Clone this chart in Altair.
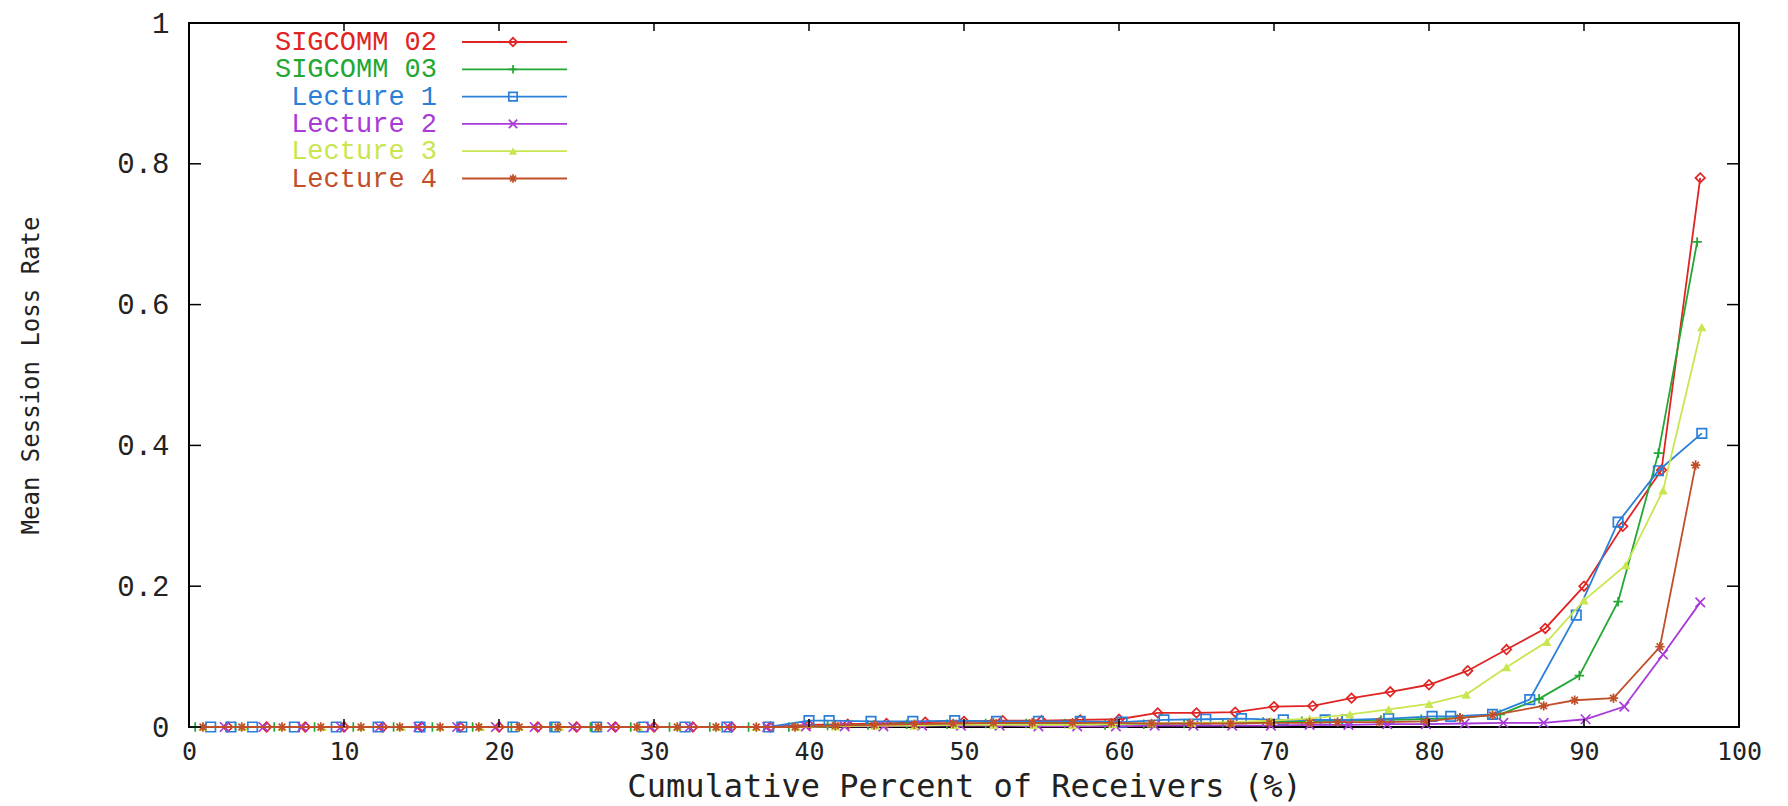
import altair as alt
import pandas as pd

# ---------------- data ----------------
series_names = ["SIGCOMM 02", "SIGCOMM 03", "Lecture 1", "Lecture 2", "Lecture 3", "Lecture 4"]

s02_x = [2.5, 5, 7.5, 10, 12.5, 15, 17.5, 20, 22.5, 25, 27.5, 30, 32.5, 35, 37.5,
         40, 42.5, 45, 47.5, 50, 52.5, 55, 57.5, 60, 62.5, 65, 67.5, 70, 72.5, 75,
         77.5, 80, 82.5, 85, 87.5, 90, 92.5, 95, 97.5]
s02_y = [0, 0, 0, 0, 0, 0, 0, 0, 0, 0, 0, 0, 0, 0, 0,
         0.003, 0.004, 0.005, 0.007, 0.008, 0.009, 0.009, 0.010, 0.011, 0.020, 0.020,
         0.021, 0.029, 0.030, 0.041, 0.050, 0.060, 0.080, 0.110, 0.140, 0.200, 0.285,
         0.365, 0.780]

s03_x = [0.4, 3.0, 5.5, 8.1, 10.6, 13.2, 15.7, 18.3, 20.8, 23.4, 25.9, 28.5, 31.0,
         33.6, 36.1, 38.7, 41.2, 43.8, 46.3, 48.9, 51.4, 54.0, 56.5, 59.1, 61.6, 64.2,
         66.7, 69.3, 71.8, 74.4, 76.9, 79.5, 82.0, 84.6, 87.1, 89.7, 92.2, 94.8, 97.3]
s03_y = [0, 0, 0, 0, 0, 0, 0, 0, 0, 0, 0, 0, 0, 0, 0, 0,
         0.002, 0.003, 0.004, 0.004, 0.005, 0.005, 0.005, 0.003, 0.004, 0.005, 0.006,
         0.007, 0.008, 0.009, 0.010, 0.011, 0.013, 0.018, 0.040, 0.073, 0.178, 0.389,
         0.689]

l1_x = [1.4, 2.7, 4.1, 6.8, 9.5, 12.2, 14.9, 17.6, 20.9, 23.6, 26.3, 29.3, 32.0,
        34.7, 37.4, 40.0, 41.3, 44.0, 46.7, 49.4, 52.1, 54.8, 57.5, 60.2, 62.9, 65.6,
        67.9, 70.6, 73.3, 74.7, 77.4, 80.2, 81.4, 84.1, 86.5, 89.5, 92.2, 94.8, 97.6]
l1_y = [0, 0, 0, 0, 0, 0, 0, 0, 0, 0, 0, 0, 0, 0, 0,
        0.009, 0.009, 0.008, 0.008, 0.009, 0.008, 0.008, 0.008, 0.007, 0.010, 0.011,
        0.012, 0.010, 0.010, 0.010, 0.012, 0.015, 0.015, 0.018, 0.039, 0.159, 0.291,
        0.364, 0.417]

l2_x = [2.3, 4.8, 7.3, 9.8, 12.3, 14.8, 17.3, 19.8, 22.3, 24.8, 27.3, 29.8, 32.3,
        34.8, 37.3, 39.8, 42.3, 44.8, 47.3, 49.8, 52.3, 54.8, 57.3, 59.8, 62.3, 64.8,
        67.3, 69.8, 72.3, 74.8, 77.3, 79.8, 82.3, 84.8, 87.4, 90.1, 92.6, 95.1, 97.5]
l2_y = [0, 0, 0, 0, 0, 0, 0, 0, 0, 0, 0, 0, 0, 0, 0,
        0.001, 0.001, 0.001, 0.002, 0.002, 0.002, 0.001, 0.001, 0.001, 0.002, 0.002,
        0.002, 0.002, 0.003, 0.003, 0.004, 0.004, 0.005, 0.006, 0.006, 0.011, 0.029,
        0.103, 0.177]

l3_x = [0.9, 3.5, 6.0, 8.6, 11.1, 13.7, 16.2, 18.8, 21.3, 23.9, 26.4, 29.0, 31.5,
        34.1, 36.6, 39.2, 41.7, 44.3, 46.8, 49.4, 51.9, 54.5, 57.0, 59.6, 62.1, 64.7,
        67.2, 69.8, 72.3, 74.9, 77.4, 80.0, 82.4, 85.0, 87.6, 90.0, 92.7, 95.1, 97.6]
l3_y = [0, 0, 0, 0, 0, 0, 0, 0, 0, 0, 0, 0, 0, 0, 0, 0,
        0.001, 0.002, 0.002, 0.003, 0.003, 0.003, 0.003, 0.004, 0.005, 0.006, 0.007,
        0.009, 0.012, 0.018, 0.025, 0.033, 0.046, 0.085, 0.121, 0.180, 0.230, 0.336,
        0.568]

l4_x = [0.9, 3.4, 6.0, 8.5, 11.1, 13.6, 16.2, 18.7, 21.3, 23.8, 26.4, 28.9, 31.5,
        34.0, 36.6, 39.1, 41.7, 44.2, 46.8, 49.3, 51.9, 54.4, 57.0, 59.5, 62.1, 64.6,
        67.2, 69.7, 72.3, 74.1, 76.8, 79.8, 82.0, 84.1, 87.4, 89.4, 91.9, 94.9, 97.2]
l4_y = [0, 0, 0, 0, 0, 0, 0, 0, 0, 0, 0, 0, 0, 0, 0, 0,
        0.002, 0.003, 0.004, 0.005, 0.006, 0.006, 0.006, 0.006, 0.005, 0.005, 0.005,
        0.006, 0.006, 0.007, 0.007, 0.008, 0.013, 0.017, 0.030, 0.038, 0.041, 0.114,
        0.372]

x_ticks = [0, 10, 20, 30, 40, 50, 60, 70, 80, 90, 100]
y_ticks = [0, 0.2, 0.4, 0.6, 0.8, 1]

# ---------------- styling ----------------
W, H = 1550, 704
colors = ["#e02424", "#22a832", "#2a80d8", "#a83ad8", "#c8e650", "#c0502a"]
shapes = [
    "diamond",
    "M-1,0L1,0M0,-1L0,1",
    "square",
    "M-1,-1L1,1M-1,1L1,-1",
    "triangle-up",
    "M-1,0L1,0M0,-1L0,1M-0.7,-0.7L0.7,0.7M-0.7,0.7L0.7,-0.7",
]
filled = [False, False, False, False, True, False]
xs_all = [s02_x, s03_x, l1_x, l2_x, l3_x, l4_x]
ys_all = [s02_y, s03_y, l1_y, l2_y, l3_y, l4_y]

X = alt.X(
    "x:Q",
    scale=alt.Scale(domain=[0, 100], nice=False, zero=False),
    axis=alt.Axis(
        values=x_ticks, title="Cumulative Percent of Receivers (%)",
        labelFont="DejaVu Sans Mono", labelFontSize=25, labelPadding=12,
        labelColor="#222", labelFlush=False,
        titleFont="DejaVu Sans Mono", titleFontSize=32, titleFontWeight="normal",
        titleColor="#222", titleY=44, titleBaseline="top",
    ),
)
Y = alt.Y(
    "y:Q",
    scale=alt.Scale(domain=[0, 1], nice=False),
    axis=alt.Axis(
        values=y_ticks, format="~g", title="Mean Session Loss Rate",
        labelFont="Liberation Mono", labelFontSize=29, labelPadding=20,
        labelColor="#222", labelFlush=False, labelBaseline="middle",
        titleFont="DejaVu Sans Mono", titleFontSize=24, titleFontWeight="normal",
        titleColor="#222", titleX=-146, titleY=H / 2, titleAngle=270,
    ),
)

layers = []
for i, name in enumerate(series_names):
    df = pd.DataFrame({"x": xs_all[i], "y": ys_all[i], "series": name})
    base = alt.Chart(df)
    layers.append(base.mark_line(color=colors[i], strokeWidth=1.8).encode(x=X, y=Y))
    layers.append(
        base.mark_point(shape=shapes[i], color=colors[i], filled=filled[i], size=90,
                        strokeWidth=1.7, opacity=1).encode(x=X, y=Y)
    )

# inward (mirrored) ticks, gnuplot style -- same fields/encodings as the data axes
xt = pd.DataFrame({"x": x_ticks})
yt = pd.DataFrame({"y": y_ticks})
layers.append(alt.Chart(xt).mark_rule(color="black", strokeWidth=1.5).encode(
    x=X, y=alt.value(H), y2=alt.value(H - 8)))
layers.append(alt.Chart(xt).mark_rule(color="black", strokeWidth=1.5).encode(
    x=X, y=alt.value(0), y2=alt.value(8)))
layers.append(alt.Chart(yt).mark_rule(color="black", strokeWidth=1.5).encode(
    y=Y, x=alt.value(0), x2=alt.value(12)))
layers.append(alt.Chart(yt).mark_rule(color="black", strokeWidth=1.5).encode(
    y=Y, x=alt.value(W), x2=alt.value(W - 12)))

# legend (top-left, inside the plot)
row0, row_step = 19, 27.3
for i, name in enumerate(series_names):
    ld = pd.DataFrame({"label": [name]})
    ry = row0 + row_step * i
    lc = alt.Chart(ld)
    layers.append(lc.mark_text(align="right", baseline="middle", font="Liberation Mono",
                               fontSize=27, color=colors[i]).encode(
        text="label:N", x=alt.value(248), y=alt.value(ry)))
    layers.append(lc.mark_rule(color=colors[i], strokeWidth=1.8).encode(
        x=alt.value(273), x2=alt.value(378), y=alt.value(ry)))
    layers.append(lc.mark_point(shape=shapes[i], color=colors[i], filled=filled[i],
                                size=70, strokeWidth=1.7, opacity=1).encode(
        x=alt.value(324), y=alt.value(ry)))

chart = (
    alt.layer(*layers)
    .properties(
        width=W, height=H,
        autosize=alt.AutoSizeParams(type="none"),
        padding={"left": 181, "top": 15, "right": 40, "bottom": 78},
        background="white",
    )
    .configure_view(stroke="black", strokeWidth=2)
    .configure_axis(domain=False, ticks=False, grid=False)
)

chart.save("out.html", embed_options={"renderer": "svg", "actions": False})
